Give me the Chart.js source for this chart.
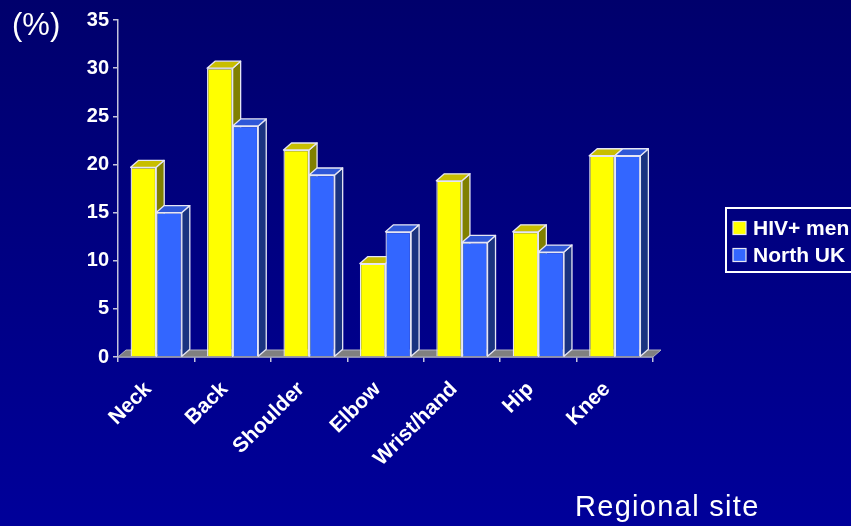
<!DOCTYPE html>
<html>
<head>
<meta charset="utf-8">
<script src="https://cdn.jsdelivr.net/npm/chart.js@4.4.1/dist/chart.umd.min.js"></script>
<style>
  html, body { margin: 0; padding: 0; }
  body { width: 851px; height: 526px; overflow: hidden;
         background: linear-gradient(to bottom, #00006c, #00009a); }
  #wrap { position: relative; width: 851px; height: 526px; }
  .note { position: absolute; color: #fff; font-family: 'Liberation Sans', Arial, sans-serif; white-space: nowrap; }
  #unit { left: 12px; top: 7px; font-size: 31px; }
  #xtitle { left: 575px; top: 490px; font-size: 29px; letter-spacing: 1.3px; }
</style>
</head>
<body>
<div id="wrap">
  <canvas id="sites" width="851" height="526"></canvas>
  <div class="note" id="unit">(%)</div>
  <div class="note" id="xtitle">Regional site</div>
</div>
<script>
// prevalence of pain by body region
const sites = ['Neck', 'Back', 'Shoulder', 'Elbow', 'Wrist/hand', 'Hip', 'Knee'];
const hivMen = [19.7, 30, 21.5, 9.7, 18.3, 13, 20.9];
const northUK = [15, 24, 18.9, 13, 11.9, 10.9, 20.9];
const yMax = 35;
const yStep = 5;

const FONT = "'Liberation Sans', Arial, sans-serif";
const EDGE = '#e6e6f4';
const AXIS = '#c4c4dc';
const DX = 8, DY = 7;   // depth offset of the fake 3d boxes

const shades = [
  { front: '#ffff00', top: '#c8be00', side: '#808000' },
  { front: '#3366ff', top: '#2f58d8', side: '#1a3380' }
];

function poly(ctx, pts, fill) {
  ctx.beginPath();
  ctx.moveTo(pts[0][0], pts[0][1]);
  for (let i = 1; i < pts.length; i++) ctx.lineTo(pts[i][0], pts[i][1]);
  ctx.closePath();
  ctx.fillStyle = fill;
  ctx.fill();
  ctx.stroke();
}

// floor strip plus top and side faces, painted before the bar fronts
const depthPlugin = {
  id: 'depth',
  beforeDatasetsDraw(chart) {
    const { ctx, chartArea: a } = chart;
    ctx.save();
    ctx.lineJoin = 'round';
    ctx.lineWidth = 1;
    ctx.strokeStyle = '#b0b0c0';
    poly(ctx, [[a.left, a.bottom], [a.right, a.bottom],
               [a.right + DX, a.bottom - DY], [a.left + DX, a.bottom - DY]], '#808080');
    ctx.lineWidth = 1.3;
    ctx.strokeStyle = EDGE;
    chart.data.datasets.forEach((ds, i) => {
      const c = shades[i];
      chart.getDatasetMeta(i).data.forEach(bar => {
        const { x, y, base, width } = bar.getProps(['x', 'y', 'base', 'width'], true);
        const l = x - width / 2, r = x + width / 2;
        poly(ctx, [[r, y], [r + DX, y - DY], [r + DX, base - DY], [r, base]], c.side);
        poly(ctx, [[l, y], [r, y], [r + DX, y - DY], [l + DX, y - DY]], c.top);
      });
    });
    ctx.restore();
  }
};

// boxed legend at the right, partly running off the page
const legendPlugin = {
  id: 'sideLegend',
  afterDraw(chart) {
    const { ctx } = chart;
    const bx = 726, by = 208;
    ctx.save();
    ctx.strokeStyle = '#ffffff';
    ctx.lineWidth = 2;
    ctx.strokeRect(bx, by, 160, 64);
    ctx.font = 'bold 21px ' + FONT;
    ctx.textBaseline = 'middle';
    chart.data.datasets.forEach((ds, i) => {
      const cy = by + 20 + i * 27;
      ctx.fillStyle = ds.backgroundColor;
      ctx.fillRect(bx + 7, cy - 6.5, 13, 13);
      ctx.lineWidth = 1.2;
      ctx.strokeStyle = EDGE;
      ctx.strokeRect(bx + 7, cy - 6.5, 13, 13);
      ctx.fillStyle = '#ffffff';
      ctx.fillText(ds.label, bx + 27, cy + 1);
    });
    ctx.restore();
  }
};

new Chart(document.getElementById('sites'), {
  type: 'bar',
  data: {
    labels: sites,
    datasets: [
      { label: 'HIV+ men', data: hivMen, backgroundColor: shades[0].front },
      { label: 'North UK', data: northUK, backgroundColor: shades[1].front }
    ]
  },
  options: {
    responsive: false,
    animation: false,
    devicePixelRatio: 1,
    layout: { padding: { left: 0, top: 20, right: 198, bottom: 0 } },
    datasets: {
      bar: {
        categoryPercentage: 0.67,
        barPercentage: 1,
        borderColor: EDGE,
        borderWidth: 1.3
      }
    },
    plugins: {
      legend: { display: false },
      tooltip: { enabled: false }
    },
    scales: {
      x: {
        afterFit: s => { s.height = 169; },
        grid: { drawOnChartArea: false, color: AXIS, tickLength: 5, lineWidth: 1.5 },
        border: { color: AXIS, width: 1.5 },
        ticks: {
          color: '#ffffff',
          font: { family: FONT, size: 21, weight: 'bold' },
          minRotation: 45,
          maxRotation: 45,
          padding: 15,
          labelOffset: -8
        }
      },
      y: {
        min: 0,
        max: yMax,
        afterFit: s => { s.width = 118; },
        grid: { drawOnChartArea: false, color: AXIS, tickLength: 5, lineWidth: 1.5 },
        border: { color: AXIS, width: 1.5 },
        ticks: {
          stepSize: yStep,
          color: '#ffffff',
          font: { family: FONT, size: 20, weight: 'bold' },
          padding: 4
        }
      }
    }
  },
  plugins: [depthPlugin, legendPlugin]
});
</script>
</body>
</html>
